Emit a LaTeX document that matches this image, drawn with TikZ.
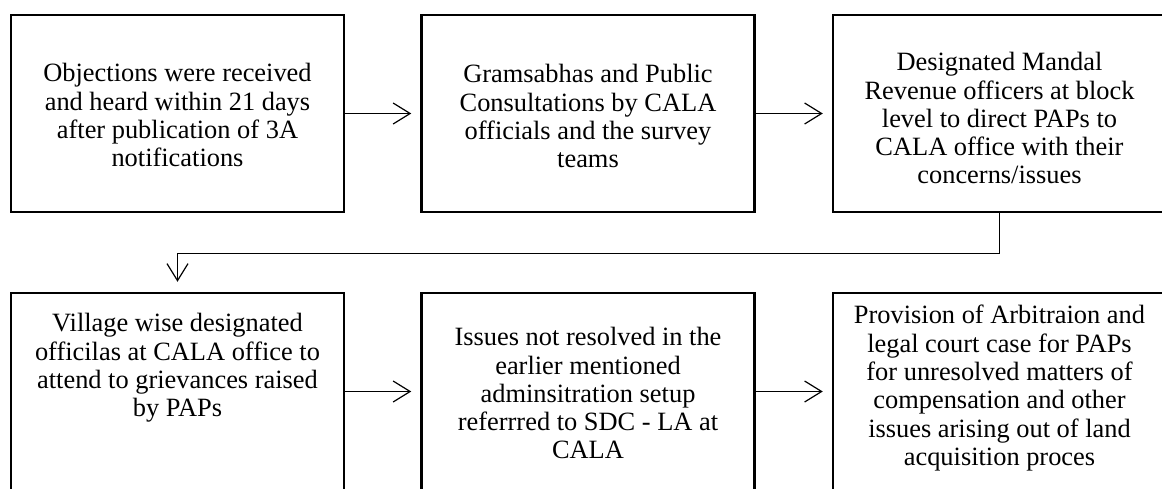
\documentclass[tikz,border=0pt]{standalone}
\usepackage{fontspec}
\setmainfont{Liberation Serif}
\usetikzlibrary{arrows.meta}
\begin{document}
\begin{tikzpicture}[x=0.5pt,y=-0.5pt,
  box/.style={draw, line width=1.25pt, inner sep=0pt, minimum width=166.5pt, minimum height=98.5pt},
  txt/.style={align=center, inner sep=0pt, anchor=north, font=\fontsize{13.2pt}{14.15pt}\selectfont},
  conn/.style={line width=0.6pt, -{Straight Barb[length=8.5pt,width=10.5pt]}, shorten >=4.5pt}]
\clip (0,0) rectangle (1162,488);
\fill[white] (0,0) rectangle (1162,488);
% boxes
\node[box] (b1) at (177.5,113.5) {};
\node[box] (b2) at (588,113.5) {};
\node[box] (b3) at (999.5,113.5) {};
\node[box] (b4) at (177.5,391.5) {};
\node[box] (b5) at (588,391.5) {};
\node[box] (b6) at (999.5,391.5) {};
% texts
\node[txt] (t1) at (177.5,63) {Objections were received\\and heard within 21 days\\after publication of 3A\\notifications};
\node[txt] (t2) at (588,64) {Gramsabhas and Public\\Consultations by CALA\\officials and the survey\\teams};
\node[txt] (t3) at (999.5,52) {Designated Mandal\\Revenue officers at block\\level to direct PAPs to\\CALA office with their\\concerns/issues};
\node[txt] (t4) at (177.5,313) {Village wise designated\\officilas at CALA office to\\attend to grievances raised\\by PAPs};
\node[txt] (t5) at (588,327) {Issues not resolved in the\\earlier mentioned\\adminsitration setup\\referrred to SDC - LA at\\CALA};
\node[txt] (t6) at (999.5,305) {Provision of Arbitraion and\\legal court case for PAPs\\for unresolved matters of\\compensation and other\\issues arising out of land\\acquisition proces};
% connectors
\draw[conn] (b1.east) -- (b2.west);
\draw[conn] (b2.east) -- (b3.west);
\draw[conn] (b4.east) -- (b5.west);
\draw[conn] (b5.east) -- (b6.west);
\draw[conn, shorten >=5pt] (b3.south) -- ++(0,40) -| (b4.north);
\end{tikzpicture}
\end{document}
